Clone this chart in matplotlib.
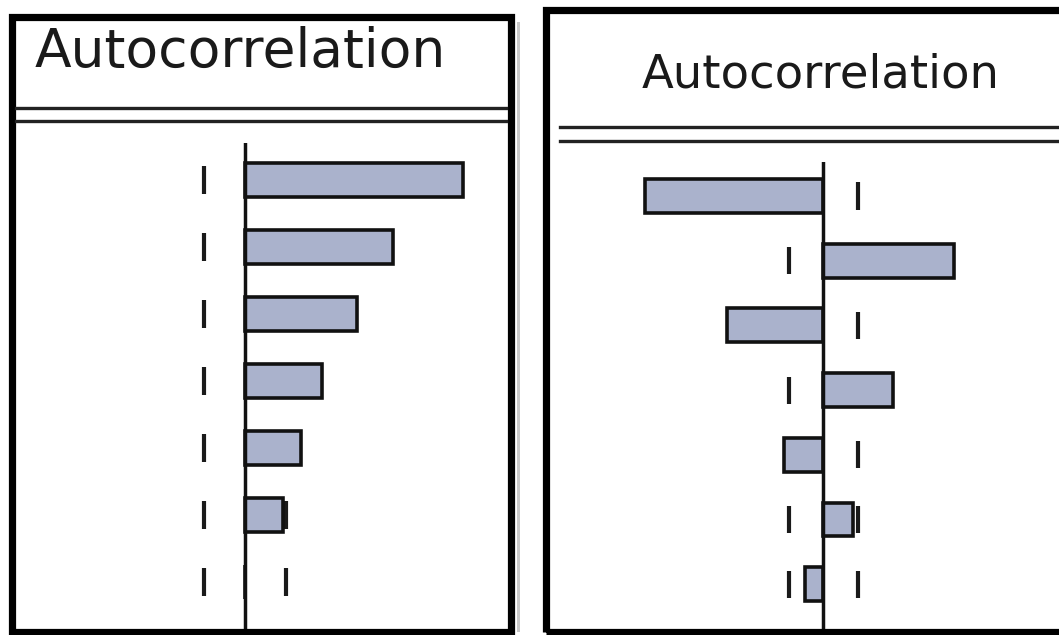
import matplotlib
matplotlib.use("Agg")
import matplotlib.pyplot as plt
from matplotlib.patches import Rectangle
from matplotlib.lines import Line2D

# Autocorrelation values per lag for the two correlograms
lags = [1, 2, 3, 4, 5, 6, 7, 8]
acf_left = [0.872, 0.592, 0.448, 0.308, 0.224, 0.152, 0.0, -0.128]
acf_right = [-0.712, 0.524, -0.384, 0.28, -0.156, 0.12, -0.072, 0.048]
bound_left = 0.164
bound_right = 0.138
title = "Autocorrelation"

W, H = 1059, 635
BAR_COLOR = "#aab2cc"

fig = plt.figure(figsize=(W / 100, H / 100), dpi=100)
fig.patch.set_facecolor("white")


def fx(x):
    return x / W


def fy(y):
    return 1 - y / H


def panel_axes(x0, x1, y0, y1, zero_x, first_row, row_step, px_per_unit):
    # axes placed in pixel coords, data units chosen so lag k sits on its row
    ax = fig.add_axes([fx(x0), fy(y1), fx(x1 - x0), (y1 - y0) / H])
    ax.set_xlim(-(zero_x - x0) / px_per_unit, (x1 - zero_x) / px_per_unit)
    top = 1 - (first_row - y0) / row_step
    bottom = 1 + (y1 - first_row) / row_step
    ax.set_ylim(bottom, top)
    ax.axis("off")
    return ax


def correlogram(ax, values, bound, bar_h):
    # confidence bounds as short dashes behind the bars
    for k in lags:
        for b in (-bound, bound):
            ax.plot([b, b], [k - 0.21, k + 0.21], color="#1a1a1a",
                    lw=3.0, solid_capstyle="butt", zorder=1)
    ax.barh(lags, values, height=bar_h, color=BAR_COLOR,
            edgecolor="#111111", linewidth=2.6, zorder=2)
    ax.axvline(0, color="#111111", lw=2.5, zorder=3)


# left correlogram
ax1 = panel_axes(16, 505, 143, 635, 245, 180, 67, 250)
correlogram(ax1, acf_left, bound_left, 0.52)

# right correlogram
ax2 = panel_axes(550, 1059, 162, 635, 823, 196, 64.7, 250)
correlogram(ax2, acf_right, bound_right, 0.525)

# frames, header rules and titles
fig.add_artist(Rectangle((fx(517), fy(632)), fx(3), (632 - 22) / H,
                         transform=fig.transFigure, color="#c8c8c8", lw=0))
fig.add_artist(Rectangle((fx(12), fy(632)), fx(499), (632 - 17) / H,
                         transform=fig.transFigure, fill=False,
                         edgecolor="black", lw=5.2))
fig.add_artist(Rectangle((fx(546), fy(632)), fx(530), (632 - 10) / H,
                         transform=fig.transFigure, fill=False,
                         edgecolor="black", lw=5.2))

for y in (108, 121):
    fig.add_artist(Line2D([fx(16), fx(506)], [fy(y), fy(y)],
                          transform=fig.transFigure, color="#222222", lw=2.4))
for y in (127, 141):
    fig.add_artist(Line2D([fx(560), fx(1059)], [fy(y), fy(y)],
                          transform=fig.transFigure, color="#222222", lw=2.4))

fig.text(fx(35), fy(67), title, fontsize=38.5, color="#1a1a1a",
         ha="left", va="baseline", family="DejaVu Sans")
fig.text(fx(642), fy(87), title, fontsize=33.5, color="#1a1a1a",
         ha="left", va="baseline", family="DejaVu Sans")

fig.savefig("out.png", dpi=100, facecolor="white")
